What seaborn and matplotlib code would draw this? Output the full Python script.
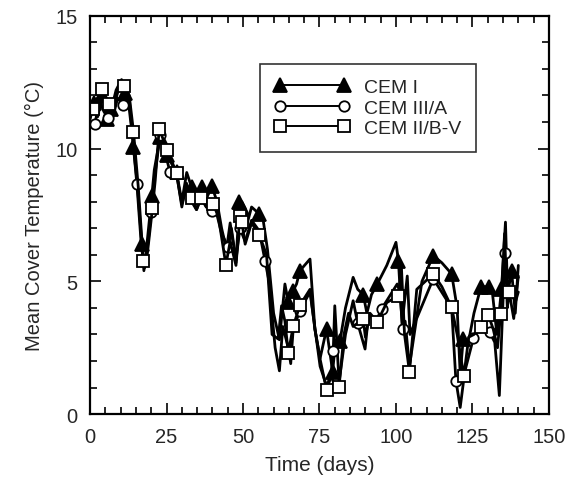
import matplotlib
matplotlib.use("Agg")
import matplotlib.pyplot as plt
from matplotlib.lines import Line2D
from matplotlib.ticker import MultipleLocator
import pandas as pd
import seaborn as sns

# CEM I
days_cem1 = [0, 1.2, 2.5, 4.0, 5.4, 7.0, 8.5, 10.3, 11.4, 12.8, 14.2, 15.5, 16.9, 17.6, 18.5,
             20.2, 21.0, 22.9, 24.0, 25.3, 26.8, 28.3, 30.0, 31.6, 33.2, 34.8, 36.5, 38.0, 39.8,
             41.5, 43.0, 44.6, 45.8, 47.7, 48.8, 49.6, 50.7, 52.8, 55.3, 56.6, 58.0, 60.0, 61.9,
             63.7, 64.8, 66.4, 67.5, 68.6, 71.9, 73.5, 75.2, 77.3, 79.3, 80.3, 81.7, 83.5, 86.0,
             87.5, 89.3, 90.5, 92.0, 93.9, 97.0, 100.0, 100.8, 102.0, 103.7, 104.6, 106.7, 108.5,
             112.2, 115.0, 118.2, 120.0, 121.0, 122.0, 123.5, 125.5, 127.8, 130.4, 131.5, 133.0,
             134.5, 135.8, 136.5, 137.8, 139.0, 140.0]
temp_cem1 = [11.1, 11.7, 11.2, 12.0, 11.1, 11.5, 12.2, 12.6, 12.1, 11.9, 10.05, 8.6, 6.4, 5.4, 6.3,
             8.23, 9.2, 10.43, 10.2, 9.75, 9.4, 9.1, 8.0, 9.1, 8.54, 7.9, 8.54, 8.1, 8.6,
             8.0, 7.0, 6.2, 7.2, 5.7, 7.97, 7.75, 6.9, 7.8, 7.54, 7.3, 6.2, 3.8, 2.8,
             4.9, 4.21, 4.65, 4.9, 5.4, 5.84, 3.2, 2.1, 3.2, 1.6, 2.8, 2.76, 4.0, 5.15,
             4.7, 4.5, 3.8, 4.5, 4.9, 5.6, 6.47, 5.78, 3.4, 5.2, 3.0, 3.6, 5.0,
             5.97, 5.7, 5.28, 4.0, 1.5, 2.83, 2.6, 3.8, 4.8, 4.8, 4.6, 3.0,
             4.7, 7.23, 4.5, 5.4, 3.8, 5.6]
marks_cem1 = [1.2, 4.0, 5.4, 7.0, 11.4, 14.2, 16.9, 20.2, 22.9, 25.3, 28.3, 33.2, 36.5, 39.8,
              48.8, 49.6, 55.3, 64.8, 66.4, 68.6, 77.3, 79.3, 81.7, 89.3, 93.9, 100.8, 112.2,
              118.2, 122.0, 127.8, 130.4, 134.5, 137.8]

# CEM III/A
days_cem3 = [0, 1.6, 3.0, 4.5, 5.8, 7.5, 9.0, 10.9, 12.5, 14.0, 15.3, 16.8, 17.8, 19.0, 20.0,
             21.2, 22.9, 24.2, 26.1, 28.3, 30.0, 31.6, 33.2, 34.8, 36.5, 38.0, 39.8, 41.5, 43.0,
             45.2, 46.2, 47.7, 49.0, 50.7, 52.8, 55.3, 57.2, 58.5, 60.5, 61.9, 63.0, 64.8, 65.6,
             66.4, 68.6, 71.9, 73.2, 75.2, 77.5, 78.8, 79.5, 80.0, 81.4, 83.5, 86.0, 87.5, 89.9,
             91.0, 93.9, 95.3, 100.4, 101.3, 102.2, 103.0, 104.4, 106.7, 112.2, 118.2, 119.6,
             121.0, 122.5, 125.3, 128.0, 130.7, 132.3, 133.8, 135.6, 136.6, 137.8, 139.0, 140.0]
temp_cem3 = [11.0, 10.93, 11.8, 11.4, 11.16, 11.2, 11.9, 11.65, 11.8, 10.3, 8.67, 6.3, 5.5, 6.5, 7.6,
             9.0, 10.5, 10.0, 9.13, 9.0, 7.9, 8.6, 8.0, 7.7, 8.2, 7.8, 7.65, 7.5, 6.8,
             6.28, 7.0, 5.8, 7.0, 6.5, 7.3, 6.9, 5.78, 5.0, 2.5, 1.63, 3.3, 2.5, 1.9,
             3.2, 3.9, 4.6, 3.5, 1.8, 1.0, 1.4, 2.39, 4.08, 1.2, 3.0, 4.27, 3.42, 2.45,
             3.7, 3.6, 3.96, 4.9, 4.6, 3.2, 3.5, 1.8, 3.58, 5.1, 4.0, 1.26,
             0.25, 1.6, 2.85, 3.4, 3.08, 2.7, 0.7, 6.06, 4.8, 4.6, 4.2, 4.6]
marks_cem3 = [1.6, 5.8, 10.9, 15.3, 20.0, 22.9, 26.1, 39.8, 45.2, 49.0, 57.2, 68.6, 79.5, 87.5,
              95.3, 102.2, 112.2, 119.6, 125.3, 130.7, 135.6]

# CEM II/B-V
days_cem2 = [0, 1.1, 2.5, 3.8, 5.0, 6.3, 8.0, 9.5, 11.2, 12.8, 14.2, 15.8, 17.4, 18.3, 20.4,
             21.3, 22.6, 25.3, 28.3, 30.0, 31.5, 33.2, 34.8, 36.2, 38.0, 40.3, 42.0, 44.4, 45.8,
             47.7, 49.0, 49.6, 50.7, 52.8, 55.3, 57.7, 59.5, 61.5, 62.6, 63.7, 64.8, 66.4, 68.6,
             71.9, 73.5, 75.2, 77.3, 78.5, 79.6, 81.4, 83.0, 84.5, 86.0, 89.3, 90.0, 91.5, 93.9,
             97.0, 100.8, 101.8, 102.8, 104.4, 105.5, 106.8, 112.2, 115.0, 118.2, 120.0, 122.2,
             123.8, 125.5, 127.7, 130.2, 131.8, 133.2, 134.2, 135.5, 136.4, 137.0, 138.5, 140.0]
temp_cem2 = [11.3, 11.5, 11.9, 12.25, 11.7, 11.68, 11.7, 12.3, 12.37, 12.0, 10.64, 8.5, 5.78, 5.6, 7.75,
             8.8, 10.74, 9.93, 9.07, 7.8, 8.7, 8.13, 7.7, 8.13, 7.8, 7.92, 7.4, 5.62, 6.5,
             5.6, 7.47, 7.25, 6.4, 7.2, 6.75, 6.0, 3.0, 2.83, 4.08, 3.5, 2.3, 3.3, 4.1,
             4.7, 3.2, 2.07, 0.92, 1.5, 1.2, 1.03, 3.0, 3.8, 3.3, 3.58, 2.9, 3.8, 3.48,
             4.2, 4.46, 5.5, 3.0, 1.6, 3.0, 4.7, 5.28, 4.8, 4.02, 3.0, 1.44,
             2.9, 3.0, 3.27, 3.73, 3.2, 2.5, 3.77, 6.8, 4.0, 4.61, 3.6, 5.2]
marks_cem2 = [1.1, 3.8, 6.3, 11.2, 14.2, 17.4, 20.4, 22.6, 25.3, 28.3, 33.2, 36.2, 40.3, 44.4,
              49.0, 49.6, 55.3, 64.8, 66.4, 68.6, 77.3, 81.4, 89.3, 93.9, 100.8, 104.4, 112.2,
              118.2, 122.2, 127.7, 130.2, 134.2, 137.0]

series = [
    ("CEM I", days_cem1, temp_cem1, marks_cem1, dict(marker="^", ms=9.5, mfc="black")),
    ("CEM III/A", days_cem3, temp_cem3, marks_cem3, dict(marker="o", ms=7.5, mfc="white")),
    ("CEM II/B-V", days_cem2, temp_cem2, marks_cem2, dict(marker="s", ms=9, mfc="white")),
]

sns.set_style("ticks")
plt.rcParams["font.family"] = ["Liberation Sans", "DejaVu Sans"]

fig, ax = plt.subplots(figsize=(5.7, 4.81), dpi=100)
fig.subplots_adjust(left=0.158, right=0.963, bottom=0.137, top=0.965)

handles = []
for name, days, temp, marks, style in series:
    df = pd.DataFrame({"day": days, "temp": temp})
    idx = [days.index(d) for d in marks]
    sns.lineplot(data=df, x="day", y="temp", ax=ax, sort=False, estimator=None,
                 color="black", lw=2.0, markevery=idx, markeredgecolor="black",
                 markeredgewidth=1.3, legend=False, **style)
    handles.append(Line2D([], [], color="black", lw=1.4, markeredgecolor="black",
                          markeredgewidth=1.3, label=name, **style))

ax.set_xlim(0, 150)
ax.set_ylim(0, 15)
ax.xaxis.set_major_locator(MultipleLocator(25))
ax.xaxis.set_minor_locator(MultipleLocator(5))
ax.yaxis.set_major_locator(MultipleLocator(5))
ax.yaxis.set_minor_locator(MultipleLocator(1))
ax.tick_params(which="both", direction="in", top=True, right=True, width=1.4, labelsize=14.5)
ax.tick_params(which="major", length=8, pad=9)
ax.tick_params(which="minor", length=5)
for sp in ax.spines.values():
    sp.set_linewidth(1.6)
    sp.set_color("black")

ax.set_xlabel("Time (days)", fontsize=15, labelpad=7)
ax.set_ylabel("Mean Cover Temperature (\u00b0C)", fontsize=14.5, labelpad=8)

leg = ax.legend(handles=handles, loc="upper left", bbox_to_anchor=(0.37, 0.879),
                numpoints=2, handlelength=3.9, fontsize=14, frameon=True, fancybox=False,
                borderpad=0.75, labelspacing=0.15, handletextpad=0.7, borderaxespad=0)
leg.get_frame().set_edgecolor("black")
leg.get_frame().set_linewidth(1.2)

fig.savefig("out.png", dpi=100)
